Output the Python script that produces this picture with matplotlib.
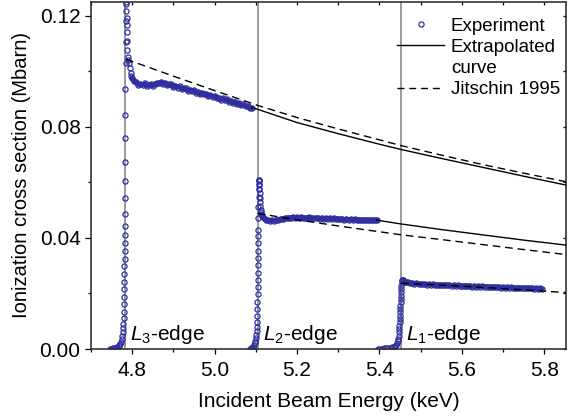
import numpy as np
import matplotlib
matplotlib.use('Agg')
import matplotlib.pyplot as plt
from matplotlib.lines import Line2D
from matplotlib.ticker import MultipleLocator, FixedLocator

plt.rcParams['font.family'] = ['Liberation Sans', 'DejaVu Sans']
plt.rcParams['mathtext.fontset'] = 'custom'
plt.rcParams['mathtext.rm'] = 'Liberation Sans'
plt.rcParams['mathtext.it'] = 'Liberation Sans:italic'
plt.rcParams['mathtext.bf'] = 'Liberation Sans:bold'

# ---------------- data ----------------
edge_names = ['3', '2', '1']
edge_energy = [4.783, 5.1055, 5.4535]

# L3 edge: pre-edge, rise and fall (explicit energies)
l3_rise_E = [4.745, 4.749, 4.753, 4.757, 4.761, 4.764, 4.767, 4.769, 4.771, 4.773,
             4.7745, 4.776, 4.7772, 4.778, 4.7787, 4.7792, 4.7796, 4.7799, 4.7802, 4.7805,
             4.7808, 4.7810, 4.7812, 4.7814, 4.7816, 4.7818, 4.7820, 4.7822, 4.7824, 4.7826,
             4.7828, 4.7830, 4.7832, 4.7834, 4.7836, 4.7838, 4.7840, 4.7842, 4.7844, 4.7846,
             4.7849, 4.7852, 4.7855, 4.7858, 4.7861, 4.7864, 4.7867, 4.7870, 4.7875, 4.7880,
             4.7890, 4.7900, 4.7920, 4.7940, 4.7960, 4.7980]
l3_rise_v = [0.0000, 0.0001, 0.0002, 0.0003, 0.0005, 0.0007, 0.0010, 0.0014, 0.0019, 0.0026,
             0.0035, 0.0047, 0.0060, 0.0075, 0.0090, 0.0110, 0.0135, 0.0162, 0.0189, 0.0216,
             0.0243, 0.0270, 0.0297, 0.0324, 0.0352, 0.0380, 0.0410, 0.0443, 0.0485, 0.0543,
             0.0605, 0.0674, 0.0759, 0.0842, 0.0936, 0.1031, 0.1106, 0.1180, 0.1250, 0.1330,
             0.1400, 0.1350, 0.1280, 0.1240, 0.1215, 0.1190, 0.1165, 0.1140, 0.1110, 0.1075,
             0.1050, 0.1040, 0.1028, 0.1012, 0.0995, 0.0982]
l3_plateau_start, l3_plateau_step = 4.800, 0.005
l3_plateau_v = [0.0975, 0.0963, 0.0960, 0.0951, 0.0954, 0.0950, 0.0956, 0.0948, 0.0951, 0.0953,
                0.0947, 0.0955, 0.0957, 0.0956, 0.0961, 0.0953, 0.0958, 0.0949, 0.0952, 0.0952,
                0.0943, 0.0948, 0.0941, 0.0945, 0.0936, 0.0938, 0.0938, 0.0929, 0.0933, 0.0927,
                0.0931, 0.0922, 0.0925, 0.0917, 0.0922, 0.0916, 0.0918, 0.0909, 0.0913, 0.0907,
                0.0911, 0.0902, 0.0905, 0.0897, 0.0902, 0.0895, 0.0898, 0.0889, 0.0893, 0.0886,
                0.0890, 0.0881, 0.0884, 0.0877, 0.0880, 0.0873, 0.0874, 0.0868, 0.0867]

# L2 edge
l2_rise_E = [5.0855, 5.0885, 5.0915, 5.0940, 5.0960, 5.0975, 5.0990, 5.1000, 5.1010, 5.1018,
             5.1024, 5.1029, 5.1033, 5.1036, 5.1039, 5.1042, 5.1044, 5.1046, 5.1048, 5.1050,
             5.1052, 5.1054, 5.1056, 5.1058, 5.1060, 5.1062, 5.1064, 5.1066, 5.1068, 5.1070,
             5.1072, 5.1075, 5.1078, 5.1082, 5.1086, 5.1091, 5.1096, 5.1102, 5.1108, 5.1115,
             5.1122, 5.1130, 5.1140]
l2_rise_v = [0.0000, 0.0002, 0.0005, 0.0009, 0.0014, 0.0020, 0.0028, 0.0038, 0.0050, 0.0064,
             0.0080, 0.0098, 0.0120, 0.0145, 0.0171, 0.0197, 0.0223, 0.0249, 0.0275, 0.0301,
             0.0327, 0.0353, 0.0380, 0.0405, 0.0428, 0.0470, 0.0512, 0.0548, 0.0575, 0.0595,
             0.0607, 0.0610, 0.0604, 0.0592, 0.0577, 0.0560, 0.0544, 0.0528, 0.0514, 0.0502,
             0.0493, 0.0487, 0.0482]
l2_plateau_start, l2_plateau_step = 5.115, 0.005
l2_plateau_v = [0.0478, 0.0471, 0.0465, 0.0464, 0.0461, 0.0463, 0.0462, 0.0466, 0.0465, 0.0469,
                0.0468, 0.0471, 0.0470, 0.0473, 0.0472, 0.0475, 0.0473, 0.0474, 0.0472, 0.0475,
                0.0472, 0.0473, 0.0471, 0.0474, 0.0471, 0.0472, 0.0470, 0.0473, 0.0469, 0.0472,
                0.0469, 0.0471, 0.0468, 0.0471, 0.0468, 0.0470, 0.0467, 0.0469, 0.0467, 0.0469,
                0.0466, 0.0468, 0.0466, 0.0467, 0.0465, 0.0467, 0.0465, 0.0466, 0.0464, 0.0466,
                0.0464, 0.0465, 0.0463, 0.0465, 0.0463, 0.0465, 0.0464]

# L1 edge
l1_rise_E = [5.3970, 5.4020, 5.4070, 5.4120, 5.4170, 5.4220, 5.4270, 5.4310, 5.4350, 5.4380,
             5.4410, 5.4430, 5.4445, 5.4458, 5.4468, 5.4476, 5.4482, 5.4487, 5.4492, 5.4496,
             5.4500, 5.4504, 5.4508, 5.4512, 5.4516, 5.4520, 5.4524, 5.4528, 5.4532, 5.4536,
             5.4540, 5.4545, 5.4552, 5.4562, 5.4575, 5.4590, 5.4610]
l1_rise_v = [0.0000, 0.0001, 0.0000, 0.0002, 0.0002, 0.0003, 0.0004, 0.0006, 0.0008, 0.0011,
             0.0016, 0.0021, 0.0028, 0.0037, 0.0048, 0.0060, 0.0072, 0.0084, 0.0096, 0.0108,
             0.0120, 0.0132, 0.0144, 0.0156, 0.0168, 0.0180, 0.0192, 0.0204, 0.0216, 0.0228,
             0.0239, 0.0246, 0.0250, 0.0249, 0.0247, 0.0245, 0.0243]
l1_plateau_start, l1_plateau_step = 5.465, 0.005
l1_plateau_v = [0.0242, 0.0240, 0.0237, 0.0238, 0.0235, 0.0237, 0.0234, 0.0235, 0.0233, 0.0234,
                0.0232, 0.0233, 0.0231, 0.0233, 0.0230, 0.0232, 0.0230, 0.0231, 0.0229, 0.0231,
                0.0229, 0.0230, 0.0228, 0.0230, 0.0227, 0.0229, 0.0227, 0.0228, 0.0226, 0.0228,
                0.0226, 0.0227, 0.0225, 0.0227, 0.0225, 0.0226, 0.0224, 0.0226, 0.0223, 0.0225,
                0.0223, 0.0224, 0.0222, 0.0224, 0.0222, 0.0223, 0.0221, 0.0223, 0.0221, 0.0222,
                0.0220, 0.0222, 0.0220, 0.0221, 0.0219, 0.0221, 0.0219, 0.0220, 0.0218, 0.0220,
                0.0218, 0.0219, 0.0217, 0.0219, 0.0217, 0.0218, 0.0217]

# Extrapolated curves (solid)
extrap_a_E = [5.090, 5.104, 5.20, 5.30, 5.40, 5.453, 5.55, 5.65, 5.75, 5.853]
extrap_a_v = [0.0868, 0.0863, 0.0815, 0.0775, 0.0737, 0.0718, 0.0686, 0.0654, 0.0622, 0.0590]
extrap_b_E = [5.393, 5.453, 5.55, 5.65, 5.75, 5.853]
extrap_b_v = [0.0464, 0.0450, 0.0430, 0.0411, 0.0392, 0.0374]

# Jitschin 1995 (dashed)
jit_a_E = [4.785, 4.90, 5.00, 5.104, 5.20, 5.30, 5.453, 5.55, 5.65, 5.75, 5.853]
jit_a_v = [0.1043, 0.0982, 0.0930, 0.0877, 0.0833, 0.0792, 0.0732, 0.0698, 0.0664, 0.0633, 0.0602]
jit_b_E = [5.104, 5.20, 5.30, 5.40, 5.453, 5.55, 5.65, 5.75, 5.853]
jit_b_v = [0.0488, 0.0465, 0.0443, 0.0422, 0.0411, 0.0394, 0.0376, 0.0358, 0.0340]
jit_c_E = [5.453, 5.55, 5.65, 5.75, 5.853]
jit_c_v = [0.0237, 0.0230, 0.0222, 0.0213, 0.0203]

x_ticks = [4.8, 5.0, 5.2, 5.4, 5.6, 5.8]
x_ticklabels = ['4.8', '5.0', '5.2', '5.4', '5.6', '5.8']
y_ticks = [0.00, 0.04, 0.08, 0.12]
y_ticklabels = ['0.00', '0.04', '0.08', '0.12']

# ---------------- plot ----------------
blue = '#2f2f9f'
fig = plt.figure(figsize=(5.76, 4.18), dpi=100)
ax = fig.add_axes([0.158, 0.165, 0.8247, 0.831])

for e in edge_energy:
    ax.axvline(e, color='#8a8a8a', lw=1.2, zorder=1)

segments = [
    (l3_rise_E, l3_rise_v, l3_plateau_start, l3_plateau_step, l3_plateau_v),
    (l2_rise_E, l2_rise_v, l2_plateau_start, l2_plateau_step, l2_plateau_v),
    (l1_rise_E, l1_rise_v, l1_plateau_start, l1_plateau_step, l1_plateau_v),
]
for rE, rv, p0, dp, pv in segments:
    pE = p0 + dp * np.arange(len(pv))
    E = np.concatenate([rE, pE])
    v = np.concatenate([rv, pv])
    # dense scan: overlapping open circles form a solid band
    ax.plot(pE, pv, '-', color=blue, lw=3.3, solid_capstyle='round', zorder=2)
    ax.plot(E, v, 'o', ms=3.7, mfc='none', mec=blue, mew=0.9, zorder=2)

for E, v in [(extrap_a_E, extrap_a_v), (extrap_b_E, extrap_b_v)]:
    ax.plot(E, v, '-', color='black', lw=1.0, zorder=3)
for E, v in [(jit_a_E, jit_a_v), (jit_b_E, jit_b_v), (jit_c_E, jit_c_v)]:
    ax.plot(E, v, color='black', lw=1.0, dashes=(5.5, 3.5), zorder=3)

ax.set_xlim(4.70, 5.853)
ax.set_ylim(0.0, 0.125)

ax.xaxis.set_major_locator(FixedLocator(x_ticks))
ax.set_xticklabels(x_ticklabels)
ax.xaxis.set_minor_locator(MultipleLocator(0.1))
ax.yaxis.set_major_locator(FixedLocator(y_ticks))
ax.set_yticklabels(y_ticklabels)
ax.yaxis.set_minor_locator(MultipleLocator(0.02))

ax.tick_params(axis='x', which='major', direction='out', length=3.5, width=0.9, pad=5, labelsize=15)
ax.tick_params(axis='x', which='minor', direction='out', length=2.5, width=0.9)
ax.tick_params(axis='y', which='major', direction='out', length=4, width=0.9, pad=3.5, labelsize=15)
ax.tick_params(axis='y', which='minor', direction='out', length=2.4, width=0.9)

secx = ax.secondary_xaxis('top')
secx.xaxis.set_major_locator(MultipleLocator(0.1))
secx.tick_params(direction='in', length=2.5, width=0.9, labeltop=False)
secx.spines['top'].set_visible(False)
secy = ax.secondary_yaxis('right')
secy.yaxis.set_major_locator(MultipleLocator(0.02))
secy.tick_params(direction='in', length=2.5, width=0.9, labelright=False)
secy.spines['right'].set_visible(False)

for s in ax.spines.values():
    s.set_linewidth(1.2)
    s.set_color('#333333')

ax.set_xlabel('Incident Beam Energy (keV)', fontsize=15, labelpad=9)
ax.set_ylabel('Ionization cross section (Mbarn)', fontsize=14.5, labelpad=6)

for name, e in zip(edge_names, edge_energy):
    ax.annotate(r'$L_{\mathit{' + name + r'}}$-edge', xy=(e, 0.0), xytext=(3.5, 6.5),
                textcoords='offset points', ha='left', va='baseline', fontsize=15)

handles = [
    Line2D([], [], ls='none', marker='o', ms=3.7, mfc='none', mec=blue, mew=0.9),
    Line2D([], [], color='black', lw=1.0),
    Line2D([], [], ls='none'),
    Line2D([], [], color='black', lw=1.0, dashes=(5, 3.5)),
]
labels = ['Experiment', 'Extrapolated', 'curve', 'Jitschin 1995']
ax.legend(handles, labels, loc='upper right', bbox_to_anchor=(1.021, 1.0), frameon=False,
          fontsize=13.5, handlelength=2.5, handletextpad=0.35, labelspacing=0.22,
          borderaxespad=0.45, borderpad=0.4, numpoints=1)

fig.savefig('out.png', dpi=100)
